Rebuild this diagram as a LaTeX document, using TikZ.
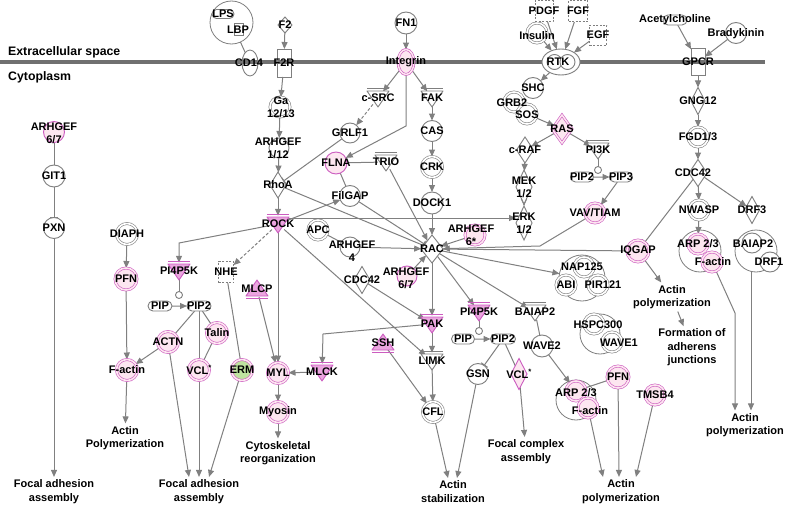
\documentclass[tikz,border=0pt]{standalone}
\usepackage{fontspec}
\setmainfont{Liberation Sans}
\usetikzlibrary{shapes.geometric,shapes.misc,arrows.meta,calc}
\definecolor{ng}{HTML}{7F7F7F}
\definecolor{eg}{HTML}{808080}
\definecolor{mg}{HTML}{707070}
\definecolor{pl}{HTML}{CC5CC0}
\definecolor{pf}{HTML}{FDE6F0}
\definecolor{pt}{HTML}{EBA5DF}
\definecolor{gf}{HTML}{BFE3A0}
\pgfdeclarelayer{bg}
\pgfdeclarelayer{fg}
\pgfsetlayers{bg,main,fg}
\tikzset{
 lbl/.style={font=\fontsize{11}{13}\selectfont\bfseries, align=center, inner sep=0pt, text=black},
 ph/.style={lbl, font=\fontsize{11}{13.5}\selectfont\bfseries, inner sep=2.5pt},
 nb/.style={draw=ng, line width=0.9pt, fill=white, inner sep=0pt, outer sep=0pt},
 circ/.style={nb, circle, minimum size=21},
 dcirc/.style={circ, line width=0.6pt, double=white, double distance=1.6pt},
 pcirc/.style={circ, draw=pl, fill=pf},
 pdcirc/.style={dcirc, draw=pl, double=pf, fill=pf},
 cplx/.style={nb, circle, fill=none, line width=0.8pt},
 dia/.style={nb, diamond, minimum width=16, minimum height=27},
 vrect/.style={nb, rectangle, fill=none, minimum width=14, minimum height=27},
 vell/.style={nb, ellipse, minimum width=16, minimum height=26},
 rrect/.style={nb, rounded rectangle, minimum width=24, minimum height=10},
 drect/.style={nb, rectangle, dash pattern=on 2pt off 1.5pt, minimum width=17, minimum height=20},
 dotn/.style={nb, circle, minimum size=7},
 anc/.style={circle, minimum size=16, inner sep=0pt},
 tri/.style={draw=ng, line width=0.9pt, fill=white, line join=round},
 ptri/.style={draw=pl, fill=pt},
 ln/.style={draw=eg, line width=1pt},
 arr/.style={ln, -{Triangle[length=7pt,width=6pt]}},
 darr/.style={arr, dash pattern=on 3pt off 2pt},
 inh/.style={ln, -{Bar[width=8pt]}},
}
\newcommand\LB[2]{\begin{pgfonlayer}{fg}\node[lbl] at (#1) {#2};\end{pgfonlayer}}
\newcommand\NN[4]{\node[#1] (#2) at (#3) {};\LB{#2}{#4}}
\newcommand\KinNode[4][]{\node[anc] (#2) at (#3) {};
 \draw[tri,#1] ($(#2)+(-11,-7)$) -- ($(#2)+(11,-7)$) -- ($(#2)+(0,9)$) -- cycle;
 \draw[tri,#1,fill=none] ($(#2)+(-11,-9.5)$) -- ($(#2)+(11,-9.5)$);
 \LB{#2}{#4}}
\newcommand\PhosNode[4][]{\node[anc] (#2) at (#3) {};
 \draw[tri,#1] ($(#2)+(-11,7)$) -- ($(#2)+(11,7)$) -- ($(#2)+(0,-9)$) -- cycle;
 \draw[tri,#1,fill=none] ($(#2)+(-11,9.5)$) -- ($(#2)+(11,9.5)$);
 \LB{#2}{#4}}
\begin{document}
\begin{tikzpicture}[x=1pt,y=-1pt]
\useasboundingbox (0,0) rectangle (785,506);
\begin{pgfonlayer}{bg}
\fill[white] (0,0) rectangle (785,506);
\draw[line width=4pt, draw=mg] (0,62) -- (765,62);
\end{pgfonlayer}
\node[lbl, font=\fontsize{12.3}{14}\selectfont\bfseries, anchor=west] at (8,52) {Extracellular space};
\node[lbl, font=\fontsize{12.3}{14}\selectfont\bfseries, anchor=west] at (8,77) {Cytoplasm};
% ---- left / centre nodes
\node[cplx, minimum size=43] (lpsc) at (231.5,22.5) {};
\node[rrect, minimum width=22, minimum height=9] (lps) at (223,14) {};
\node[nb, rectangle, minimum width=9, minimum height=12] (lbp) at (239,29) {};
\LB{223,14}{LPS}\LB{238,30}{LBP}
\node[vell, fill=none] (cd14) at (250,63) {};\LB{249,63}{CD14}
\NN{dia, minimum width=14, minimum height=16}{f2}{285,25}{F2}
\NN{vrect, minimum height=28}{f2r}{284,63}{F2R}
\node[dcirc, minimum size=20] (ga) at (280,107) {};\LB{281,107}{Ga\\12/13}
\node[circ, minimum size=20] (a112) at (279,148) {};\LB{278,148}{ARHGEF\\1/12}
\NN{dia, minimum height=26}{rhoa}{278,185}{RhoA}
\KinNode[ptri]{rock}{278,224}{ROCK}
\NN{circ, minimum size=22}{fn1}{406,23}{FN1}
\NN{vell, draw=pl, fill=pf, double=pf, double distance=1.5pt, line width=0.6pt, minimum height=25}{integrin}{406,62}{Integrin}
\KinNode{csrc}{378,98}{c-SRC}
\KinNode{fak}{432,98}{FAK}
\NN{circ, minimum size=20}{grlf1}{350,133}{GRLF1}
\NN{circ}{cas}{432,131}{CAS}
\NN{dcirc}{crk}{432,167}{CRK}
\NN{pcirc, minimum size=22}{flna}{336,163}{FLNA}
\KinNode{trio}{386,162}{TRIO}
\NN{circ, minimum size=22}{dock1}{432,203}{DOCK1}
\NN{circ}{filgap}{350,196}{FilGAP}
\NN{dia, minimum width=22, minimum height=28}{rac}{432,249}{RAC}
\NN{dcirc, minimum size=20}{apc}{318,230}{APC}
\node[circ, minimum size=20] (a4) at (350,247) {};\LB{352,251}{ARHGEF\\4}
\NN{dia}{cdc42m}{362,280}{CDC42}
\node[pcirc, minimum size=20] (a67m) at (407,276) {};\LB{406,278.5}{ARHGEF\\6/7}
\node[pdcirc, minimum size=20] (a6s) at (475,235) {};\LB{471,235}{ARHGEF\\6*}
\KinNode[ptri]{pak}{432,324}{PAK}
\KinNode[ptri]{pi4m}{479,312}{PI4P5K}
\KinNode{baim}{535,312}{BAIAP2}
\NN{rrect, minimum width=23}{pipm}{463,339}{PIP}
\NN{rrect, minimum width=25}{pip2m}{503,339}{PIP2}
\node[dotn] (dotm) at (479,331) {};
\NN{circ}{gsn}{478,374}{GSN}
\NN{dia, draw=pl, fill=pf, minimum width=16, minimum height=31}{vclm}{519,374}{VCL\textsuperscript{*}}
\NN{circ, minimum size=22}{wave2}{542,346}{WAVE2}
\KinNode{limk}{432,361}{LIMK}
\NN{dcirc}{cfl}{433,412}{CFL}
\PhosNode[ptri]{ssh}{383,343}{SSH}
\KinNode[ptri]{mlck}{322,372}{MLCK}
\NN{pdcirc}{myl}{278,373}{MYL}
\NN{pdcirc}{myosin}{278,412}{Myosin}
\PhosNode[ptri]{mlcp}{257,289}{MLCP}
\NN{drect, minimum width=15, minimum height=21}{nhe}{226,272}{NHE}
\KinNode[ptri]{pi4l}{179,271}{PI4P5K}
\node[dotn] (dotl) at (179,295) {};
\NN{rrect}{pipl}{160,306}{PIP}
\NN{rrect}{pip2l}{199,306}{PIP2}
\NN{pdcirc}{talin}{217,333}{Talin}
\NN{pdcirc}{actn}{168,342}{ACTN}
\NN{pdcirc}{vcll}{199,370}{VCL\textsuperscript{*}}
\NN{pdcirc, fill=gf}{erm}{242,370}{ERM}
\NN{pdcirc}{factl}{127,370}{F-actin}
\NN{dcirc}{diaph}{127,234}{DIAPH}
\NN{pdcirc, minimum size=22}{pfnl}{126,279}{PFN}
\node[pcirc] (a67l) at (54,132) {};\LB{54,133}{ARHGEF\\6/7}
\NN{circ, minimum size=22}{git1}{54,176}{GIT1}
\NN{circ}{pxn}{54,228}{PXN}
% ---- right nodes
\node[dcirc, minimum size=20] (insulin) at (537,33) {};\LB{537,36}{Insulin}
\NN{drect, minimum width=18, minimum height=21}{pdgf}{544,11}{PDGF}
\NN{drect, minimum width=19, minimum height=21}{fgf}{578,11}{FGF}
\NN{drect}{egf}{598,35}{EGF}
\node[nb, ellipse, minimum width=38, minimum height=26] (rtk) at (561,62) {};
\node[nb, circle, minimum size=15] at (554.5,62) {};
\node[nb, circle, minimum size=15] at (567.5,62) {};
\LB{558,62}{RTK}
\NN{circ}{shc}{533,88}{SHC}
\node[dcirc, minimum size=20] (grb2) at (514,102) {};
\node[dcirc, minimum size=20] (sos) at (527,114) {};
\LB{512,103}{GRB2}\LB{527,115}{SOS}
\NN{dia, draw=pl, fill=pf, double=pf, double distance=1.5pt, line width=0.6pt, minimum width=20, minimum height=28}{ras}{562,129}{RAS}
\NN{dia, minimum width=17, minimum height=26}{craf}{525,150}{c-RAF}
\KinNode{pi3k}{598,150}{PI3K}
\node[dotn] (dotr) at (598,170) {};
\NN{rrect, minimum width=23}{pip2r}{582,177}{PIP2}
\NN{rrect, minimum width=23}{pip3}{621,177}{PIP3}
\node[dia, minimum width=16, minimum height=34] (mek) at (524,187) {};\LB{524,187.5}{MEK\\1/2}
\node[dia, minimum width=16, minimum height=34] (erk) at (524,223) {};\LB{524,223.5}{ERK\\1/2}
\NN{pdcirc, minimum size=20}{vav}{595,213}{VAV/TIAM}
\NN{rrect, minimum width=24, minimum height=10}{ach}{675,20}{Acetylcholine}
\node[circ] (brady) at (736,33) {};\LB{736,34}{Bradykinin}
\NN{vrect}{gpcr}{698,62}{GPCR}
\NN{dia, minimum width=14}{gng12}{698,101}{GNG12}
\NN{dcirc, minimum size=20}{fgd}{698,137}{FGD1/3}
\node[dia, minimum width=18] (cdc42r) at (698,173) {};\LB{693,173}{CDC42}
\NN{dcirc, minimum size=20}{nwasp}{699,210}{NWASP}
\NN{dia, minimum width=15}{drf3}{752,210}{DRF3}
\node[cplx, minimum size=42] (arprc) at (700,251) {};
\node[pdcirc, minimum size=20] (arpr) at (698,244) {};
\node[pdcirc, minimum size=20] (factr) at (712,262) {};
\LB{698,244}{ARP 2/3}\LB{713,262}{F-actin}
\node[cplx, minimum size=42] (baic) at (756,251) {};
\node[circ, minimum size=20] (baiap2r) at (752,243) {};
\node[circ, minimum size=20] (drf1) at (770,262) {};
\LB{753,244}{BAIAP2}\LB{769,262}{DRF1}
\NN{pdcirc, minimum size=22}{iqgap}{638,251}{IQGAP}
\node[cplx, minimum size=46] (napc) at (582,278) {};
\node[dcirc, minimum size=20] (nap125) at (584,267) {};
\node[dcirc, minimum size=20] (abi) at (566,285) {};
\node[dcirc, minimum size=20] (pir) at (598,285) {};
\LB{582,267}{NAP125}\LB{566,285}{ABI}\LB{603,285}{PIR121}
\node[cplx, minimum size=40] (hspcc) at (600,334) {};
\node[dcirc, minimum size=20] (hspc) at (594,324) {};
\node[dcirc, minimum size=20] (wave1) at (612,342) {};
\LB{598,325}{HSPC300}\LB{619,343}{WAVE1}
\node[cplx, minimum size=40] (arplc) at (576,400) {};
\node[pdcirc, minimum size=20] (arpl) at (576,391) {};
\node[pdcirc, minimum size=20] (factlow) at (588,408) {};
\LB{576,393}{ARP 2/3}\LB{590,411}{F-actin}
\NN{pdcirc, minimum size=22}{pfnlow}{618,377}{PFN}
\NN{pdcirc, minimum size=20}{tmsb4}{655,395}{TMSB4}
% ---- phenotypes
\node[ph] (apolyl) at (125,438) {Actin\\Polymerization};
\node[ph] (fal) at (54,491.5) {Focal adhesion\\assembly};
\node[ph] (fam) at (199,491.5) {Focal adhesion\\assembly};
\node[ph] (cyto) at (278,453) {Cytoskeletal\\reorganization};
\node[ph] (astab) at (453,491.5) {Actin\\stabilization};
\node[ph] (fca) at (526,451.5) {Focal complex\\assembly};
\node[ph] (apl) at (621,491.5) {Actin\\polymerization};
\node[ph] (apr) at (745,425) {Actin\\polymerization};
\node[ph] (apiq) at (672,297) {Actin\\polymerization};
\node[ph] (faj) at (692,347.5) {Formation of\\adherens\\junctions};
% ---- edges
\begin{pgfonlayer}{bg}
\draw[ln] (lpsc) -- (cd14);
\draw[arr] (f2) -- (f2r);
\draw[arr] (f2r) -- (ga);
\draw[arr] (ga) -- (a112);
\draw[arr] (a112) -- (rhoa);
\draw[arr] (rhoa) -- (rock);
\draw[inh] (grlf1) -- (rhoa);
\draw[arr] (fn1) -- (integrin);
\draw[arr] (integrin) -- (csrc);
\draw[arr] (integrin) -- (fak);
\draw[arr] (integrin) -- (406,126) -- (flna);
\draw[darr] (csrc) -- (grlf1);
\draw[arr] (fak) -- (cas);
\draw[arr] (cas) -- (crk);
\draw[arr] (crk) -- (dock1);
\draw[arr] (dock1) -- (rac);
\draw[ln] (flna) -- (trio);
\draw[ln] (flna) -- (filgap);
\draw[arr] (trio) -- (rac);
\draw[inh] (filgap) -- (rac);
\draw[inh] (rhoa) -- (rac);
\draw[arr] (rock) -- (filgap);
\coordinate (rockt) at (280,218);
\draw[arr] (rockt) -- (rockt -| erk.west);
\draw[arr] (rock) -- (179,243) -- (pi4l);
\draw[darr] (rock) -- (nhe);
\draw[arr] (rock) -- (myl);
\draw[arr] (mlcp) -- (myl);
\draw[arr] (rock) -- (limk);
\draw[ln] (apc) -- (a4);
\draw[arr] (a4) -- (rac);
\draw[arr] (a67m) -- (rac);
\draw[arr] (a6s) -- (rac);
\draw[arr] (vav) -- (540,246) -- (rac);
\draw[ln] (rac) -- (iqgap);
\draw[arr] (rac) -- (napc);
\draw[arr] (rac) -- (baim);
\draw[arr] (rac) -- (pi4m);
\draw[arr] (rac) -- (pak);
\draw[arr] (cdc42m) -- (pak);
\draw[arr] (pak) -- (limk);
\draw[arr] (pak) -- (323,334) -- (mlck);
\draw[arr] (mlck) -- (myl);
\draw[arr] (myl) -- (myosin);
\draw[arr] (myosin) -- (cyto);
\draw[arr] (limk) -- (cfl);
\draw[arr] (ssh) -- (cfl);
\draw[arr] (cfl) -- ([xshift=-5]astab.north);
\draw[arr] (gsn) -- ([xshift=4]astab.north);
\draw[arr] (pipm) -- (pip2m);
\draw[ln] (pi4m) -- (dotm);
\draw[inh] (pip2m) -- (gsn);
\draw[ln] (pip2m) -- (vclm);
\draw[arr] (vclm) -- (fca);
\draw[ln] (baim) -- (wave2);
\draw[arr] (wave2) -- (arpl);
\draw[ln] (pfnlow) -- (arpl);
\draw[arr] (factlow) -- ([xshift=-18]apl.north);
\draw[arr] (pfnlow) -- ([xshift=-2]apl.north);
\draw[arr] (tmsb4) -- ([xshift=15]apl.north);
\draw[arr] (iqgap) -- (apiq);
\draw[arr] (apiq) -- (faj);
\draw[inh] (cdc42r) -- (iqgap);
\draw[arr] (cdc42r) -- (nwasp);
\draw[arr] (cdc42r) -- (drf3);
\draw[arr] (nwasp) -- (arpr);
\draw[arr] (factr) -- (735,313) -- ([xshift=-10]apr.north);
\draw[arr] ([xshift=-5]baic.south) -- ([xshift=6]apr.north);
\draw[arr] (gpcr) -- (gng12);
\draw[arr] (gng12) -- (fgd);
\draw[arr] (fgd) -- (cdc42r);
\draw[arr] (ach) -- (gpcr);
\draw[arr] (brady) -- (gpcr);
\draw[arr] (insulin) -- (rtk);
\draw[arr] (pdgf) -- (rtk);
\draw[arr] (fgf) -- (rtk);
\draw[arr] (egf) -- (rtk);
\draw[arr] (rtk) -- (shc);
\draw[arr] (sos) -- (ras);
\draw[arr] (ras) -- (craf);
\draw[arr] (ras) -- (pi3k);
\draw[arr] (craf) -- (mek);
\draw[arr] (mek) -- (erk);
\draw[ln] (pi3k) -- (dotr);
\draw[arr] (pip2r) -- (pip3);
\draw[arr] (pip3) -- (vav);
\draw[arr] (diaph) -- (pfnl);
\draw[arr] (pfnl) -- (factl);
\draw[arr] (actn) -- (factl);
\draw[arr] (factl) -- (apolyl);
\draw[ln] (pip2l) -- (actn);
\draw[ln] (pip2l) -- (vcll);
\draw[ln] (pip2l) -- (talin);
\draw[ln] (talin) -- (vcll);
\draw[arr] (actn) -- ([xshift=-10]fam.north);
\draw[arr] (vcll) -- (fam);
\draw[arr] (erm) -- ([xshift=10]fam.north);
\draw[ln] (nhe) -- (erm);
\draw[arr] (pipl) -- (pip2l);
\draw[ln] (pi4l) -- (dotl);
\draw[ln] (a67l) -- (git1);
\draw[inh] (git1) -- (pxn);
\draw[arr] (pxn) -- (fal);
\end{pgfonlayer}
\end{tikzpicture}
\end{document}
